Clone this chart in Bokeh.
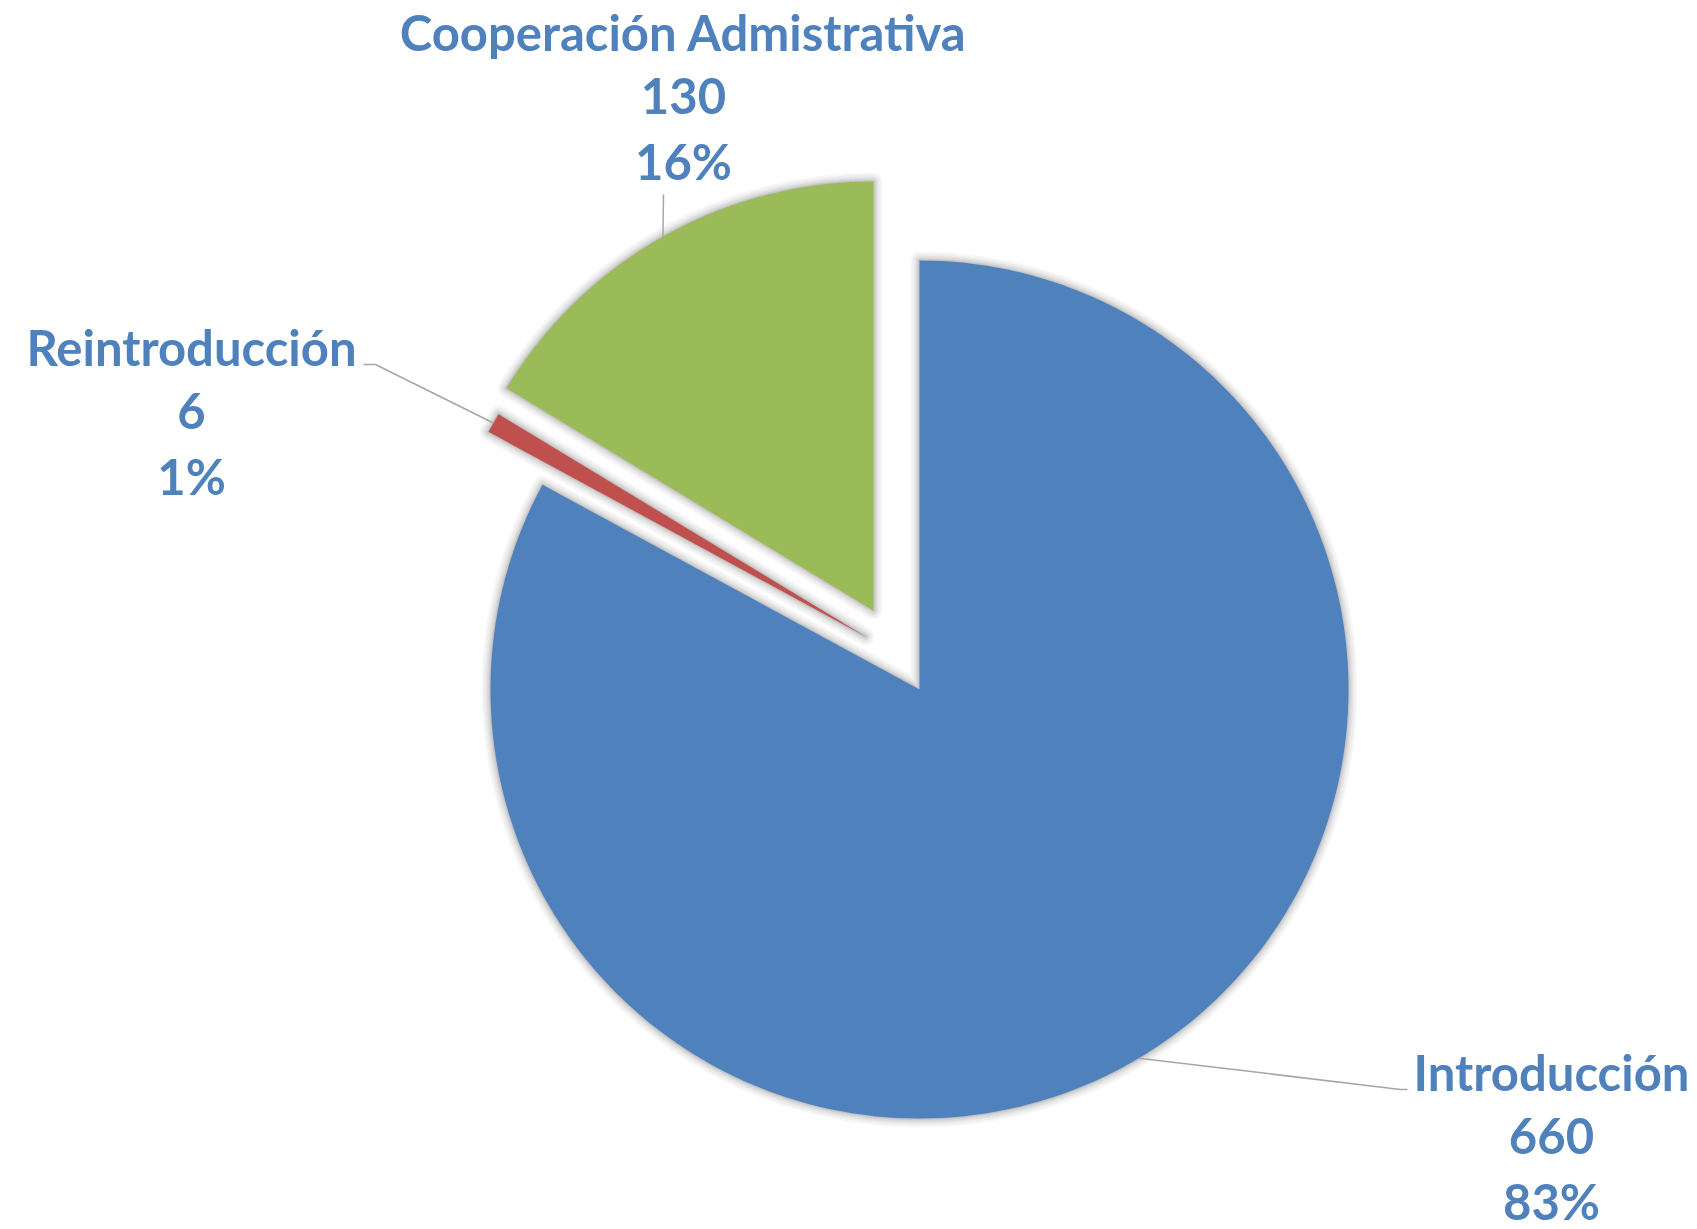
import numpy as np
from bokeh.plotting import figure
from bokeh.models import Range1d
from bokeh.embed import file_html
from bokeh.resources import INLINE
from bokeh.core.properties import value

# ---- data ----
categories = ["Introducción", "Reintroducción", "Cooperación Admistrativa"]
values = [660, 6, 130]

# ---- style ----
colors = ["#4F81BD", "#C0504D", "#9BBB59"]
text_color = "#4F81BD"
leader_color = "#A6A6A6"
CENTER = (919.0, 689.0)          # screen px
RADIUS = 429.0
EXPLODE = [(0.0, 0.0), (-54.0, -53.0), (-46.0, -79.0)]
LABEL_POS = [(1551.0, 1090.0), (191.0, 365.0), (683.0, 50.0)]   # centre x, first baseline
LINE_STEP = 64.5
TEXT_DY = -19.0
LEADER_BENDS = [[(1400.0, 1089.0), (1407.0, 1089.0)],
                [(375.0, 364.0), (363.0, 364.0)],
                [(663.0, 194.0)]]
FONT = "Lato"
FONT_SIZE = "49px"

W, H = 1697, 1229
p = figure(width=W, height=H, x_range=Range1d(0, W), y_range=Range1d(H, 0),
           output_backend="svg", toolbar_location=None, min_border=0,
           x_axis_location=None, y_axis_location=None)
p.grid.visible = False
p.outline_line_color = None
p.background_fill_color = "white"

total = float(sum(values))
fracs = [v / total for v in values]
starts = np.cumsum([0.0] + fracs[:-1]) * 2 * np.pi
ends = starts + np.array(fracs) * 2 * np.pi

polys = []
for i in range(len(values)):
    ax = CENTER[0] + EXPLODE[i][0]
    ay = CENTER[1] + EXPLODE[i][1]
    th = np.linspace(starts[i], ends[i], 200)
    xs = [ax] + list(ax + RADIUS * np.sin(th)) + [ax]
    ys = [ay] + list(ay - RADIUS * np.cos(th)) + [ay]
    polys.append((xs, ys, ax, ay))

# soft shadows
for w, a in [(18, 0.03), (14, 0.035), (10, 0.04), (7, 0.045), (4, 0.055), (2, 0.065)]:
    for xs, ys, _, _ in polys:
        p.patch(xs, ys, fill_alpha=0, line_color="black", line_alpha=a, line_width=w,
                line_join="round")

for (xs, ys, _, _), c in zip(polys, colors):
    p.patch(xs, ys, fill_color=c, line_color=None)

# leader lines & labels
for i in range(len(values)):
    _, _, ax, ay = polys[i]
    mid = (starts[i] + ends[i]) / 2
    sx = ax + RADIUS * np.sin(mid)
    sy = ay - RADIUS * np.cos(mid)
    lx = [sx] + [b[0] for b in LEADER_BENDS[i]]
    ly = [sy] + [b[1] for b in LEADER_BENDS[i]]
    p.line(lx, ly, line_color=leader_color, line_width=1.5)

    pct = f"{round(fracs[i] * 100)}%"
    lines = [categories[i], str(values[i]), pct]
    cx, by = LABEL_POS[i]
    p.text(x=[cx] * 3, y=[by + TEXT_DY + k * LINE_STEP for k in range(3)], text=lines,
           text_font=value(FONT), text_font_style="bold", text_font_size=FONT_SIZE,
           text_align="center", text_baseline="alphabetic", text_color=text_color)

open("out.html", "w").write(file_html(p, INLINE))
